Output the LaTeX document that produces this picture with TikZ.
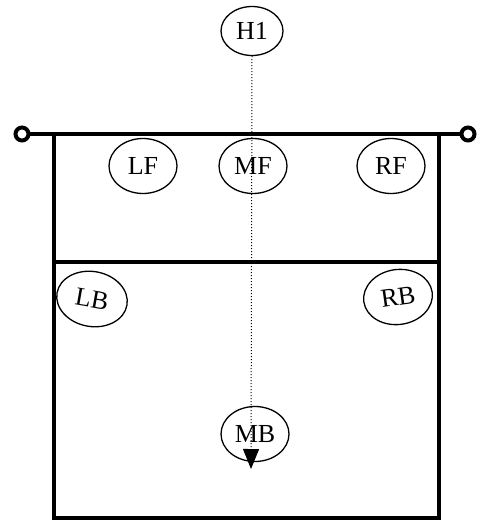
\documentclass[tikz,border=0pt]{standalone}
\usepackage{fontspec}
\setmainfont{Liberation Serif}
\usetikzlibrary{shapes.geometric,arrows.meta}
\tikzset{
	player/.style={draw, ellipse, line width=1.3pt, inner sep=0pt, minimum width=68pt, minimum height=55pt, font=\fontsize{26}{26}\selectfont},
	court/.style={line width=4pt}
}
\begin{document}
\begin{tikzpicture}[x=1pt, y=-1pt]
	\useasboundingbox (0,0) rectangle (483,522);
	\draw[court] (29,134) -- (461,134);%Netz
	\draw[court] (22,134) circle (6.5);%Pfosten links
	\draw[court] (468,134) circle (6.5);%Pfosten rechts
	\draw[court] (54,134) -- (54,518) -- (439,518) -- (439,134);%Spielfeld
	\draw[court] (54,262) -- (439,262);%Angriffslinie

	\node[player, minimum width=62pt, minimum height=49pt] (H1) at (252,31) {H1};
	\node[player] (LF) at (143,166) {LF};
	\node[player] (MF) at (253,166) {MF};
	\node[player] (RF) at (391,166) {RF};
	\node[player, minimum width=71pt, rotate=-10] (LB) at (92,299) {LB};
	\node[player, minimum width=69pt, rotate=8] (RB) at (398,297) {RB};
	\node[player] (MB) at (255,434) {MB};

	\coordinate (mbtip) at (251,469);
	\draw[dotted, line width=1pt, -{Triangle[width=16pt,length=20pt]}] (H1.south) -- (mbtip);%Laufweg
\end{tikzpicture}
\end{document}
